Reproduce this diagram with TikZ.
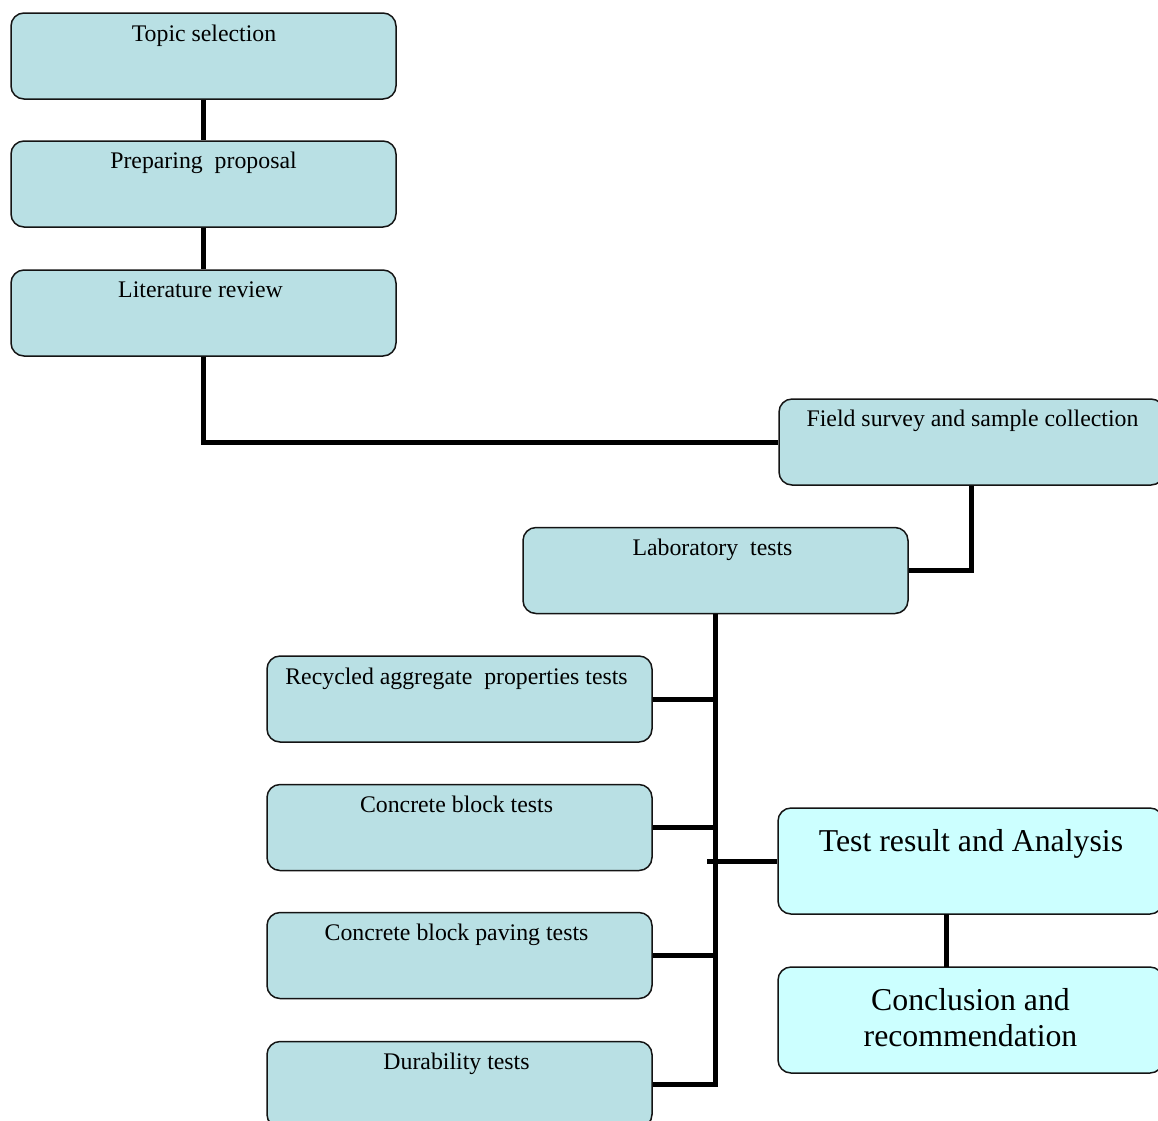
\documentclass[tikz,border=0pt]{standalone}
\usepackage{fontspec}
\setmainfont{Liberation Serif}
\definecolor{tealfill}{RGB}{185,224,228}
\definecolor{cyanfill}{RGB}{204,255,255}
\definecolor{edge}{RGB}{20,20,20}
\begin{document}
\begin{tikzpicture}[x=1pt,y=-1pt,
  box/.style={draw=edge, line width=1.5pt, rounded corners=13pt, fill=tealfill,
    minimum width=385pt, minimum height=86pt, inner sep=0pt},
  bigbox/.style={box, fill=cyanfill, minimum height=106pt},
  lbl/.style={anchor=base, inner sep=0pt, font=\fontsize{23.8}{28}\selectfont},
  biglbl/.style={anchor=base, inner sep=0pt, font=\fontsize{31.8}{36.7}\selectfont, align=center},
  conn/.style={line width=5pt, draw=black}]
\useasboundingbox (0,0) rectangle (1158,1120);
% boxes
\node[box] (ts) at (203.5,56) {};
\node[box] (pp) at (203.5,184) {};
\node[box] (lr) at (203.5,313) {};
\node[box] (fs) at (971.5,442) {};
\node[box] (lt) at (715.5,570.5) {};
\node[box] (ra) at (459.5,699) {};
\node[box] (cb) at (459.5,827.5) {};
\node[box] (cp) at (459.5,955.5) {};
\node[box] (dt) at (459.5,1084.5) {};
\node[bigbox] (tr) at (970.5,861) {};
\node[bigbox] (cr) at (970.5,1020) {};
% labels
\node[lbl] (tsl) at (204,41) {Topic selection};
\node[lbl] (ppl) at (203.5,168) {Preparing\ \ proposal};
\node[lbl] (lrl) at (200.5,297.5) {Literature review};
\node[lbl] (fsl) at (972.5,426) {Field survey and sample collection};
\node[lbl] (ltl) at (712.5,555.5) {Laboratory\ \ tests};
\node[lbl] (ral) at (456.5,684) {Recycled aggregate\ \ properties tests};
\node[lbl] (cbl) at (456.5,812) {Concrete block tests};
\node[lbl] (cpl) at (456.5,940.5) {Concrete block paving tests};
\node[lbl] (dtl) at (456.5,1069) {Durability tests};
\node[biglbl] (trl) at (971,851) {Test result and Analysis};
\node[lbl, font=\fontsize{31.8}{36.7}\selectfont] (crl1) at (970.5,1010) {Conclusion and};
\node[lbl, font=\fontsize{31.8}{36.7}\selectfont] (crl2) at (970.5,1046.7) {recommendation};
% connectors
\coordinate (busTop) at (715.5,613.5);
\coordinate (busBot) at (715.5,1084.5);
\draw[conn] (ts.south) -- (pp.north);
\draw[conn] (pp.south) -- (lr.north);
\draw[conn] (lr.south) |- (fs.west);
\draw[conn] (fs.south) |- (lt.east);
\draw[conn] (busTop) -- (busBot) -- (dt.east);
\draw[conn] (ra.east) -- (ra.east -| busTop);
\draw[conn] (cb.east) -- (cb.east -| busTop);
\draw[conn] (cp.east) -- (cp.east -| busTop);
\coordinate (tick) at (707,861);
\draw[conn] (tick) -- (tr.west);
\draw[conn] (946.8,914) -- (946.8,967);
\end{tikzpicture}
\end{document}
